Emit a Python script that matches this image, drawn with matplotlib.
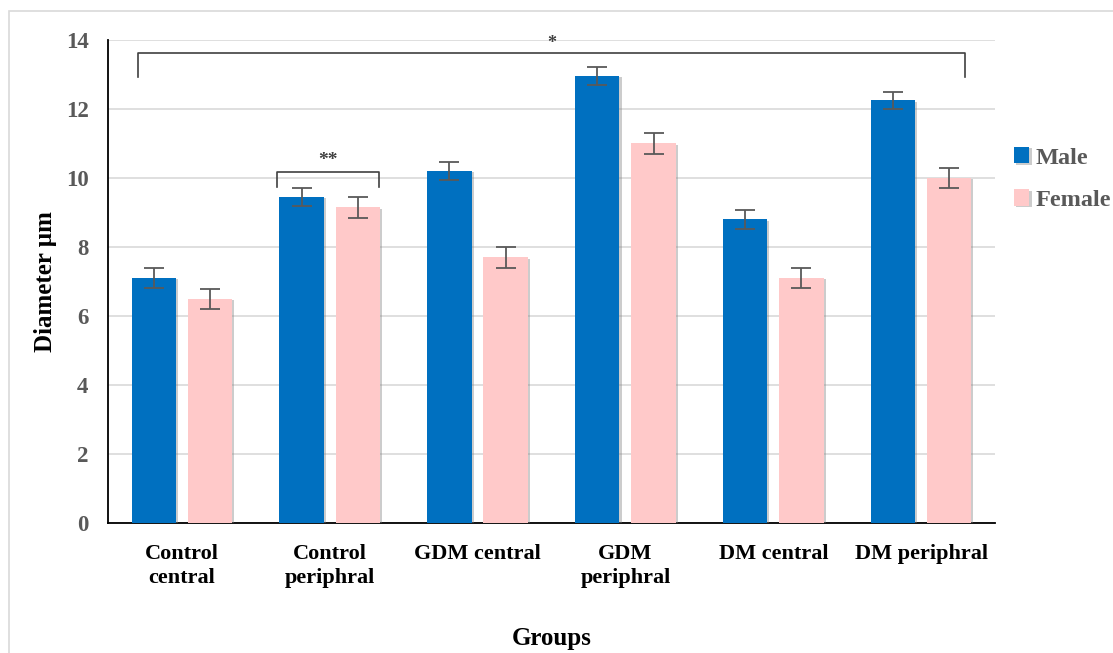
import numpy as np
import matplotlib.pyplot as plt
import matplotlib.patheffects as pe
from matplotlib.patches import Rectangle

# mean fibre diameter by group (µm)
groups = ["Control\ncentral", "Control\nperiphral", "GDM central",
          "GDM\nperiphral", "DM central", "DM periphral"]
male = [7.1, 9.45, 10.2, 12.95, 8.8, 12.25]
female = [6.5, 9.15, 7.7, 11.0, 7.1, 10.0]
male_err = [0.28, 0.25, 0.27, 0.27, 0.27, 0.25]
female_err = [0.29, 0.3, 0.3, 0.3, 0.3, 0.3]

plt.rcParams['font.family'] = ['Liberation Serif', 'DejaVu Serif']
plt.rcParams['font.weight'] = 'bold'

fig = plt.figure(figsize=(11.13, 6.53), dpi=100)
ax = fig.add_axes([0.097, 0.199, 0.797, 0.74])

x = np.arange(len(groups))
shadow = [pe.SimplePatchShadow(offset=(1.5, -1), shadow_rgbFace='gray', alpha=0.4), pe.Normal()]
err_kw = dict(ecolor='#595959', elinewidth=1.3, capsize=7, capthick=1.3)

b1 = ax.bar(x - 0.19, male, 0.3, color='#0070C0', yerr=male_err,
            error_kw=err_kw, label='Male', zorder=3)
b2 = ax.bar(x + 0.19, female, 0.3, color='#FFC9C9', yerr=female_err,
            error_kw=err_kw, label='Female', zorder=3)
for bar in list(b1) + list(b2):
    bar.set_path_effects(shadow)

ax.set_xlim(-0.5, len(groups) - 0.5)
ax.set_ylim(0, 14)
ax.set_yticks(range(0, 15, 2))
ax.yaxis.grid(True, color='#D9D9D9', linewidth=1.2, zorder=0)
ax.set_axisbelow(True)
for s in ['top', 'right']:
    ax.spines[s].set_visible(False)
ax.spines['left'].set_linewidth(1.3)
ax.spines['bottom'].set_linewidth(1.3)
ax.tick_params(axis='both', length=0)
ax.tick_params(axis='y', labelsize=16.5, labelcolor='#595959', pad=14)
ax.set_xticks(x)
ax.set_xticklabels(groups, fontsize=16, fontweight='bold', linespacing=1.3)
ax.tick_params(axis='x', pad=15)
ax.set_ylabel('Diameter µm', fontsize=18, fontweight='bold', labelpad=6)
ax.set_xlabel('Groups', fontsize=18, fontweight='bold', labelpad=28)

# significance brackets
ax.plot([-0.3, -0.3, 5.3, 5.3], [12.93, 13.62, 13.62, 12.93], color='#404040', lw=1.2, clip_on=False)
ax.text(2.5, 13.65, '*', ha='center', va='bottom', fontsize=13, color='#404040')
ax.plot([0.64, 0.64, 1.33, 1.33], [9.74, 10.17, 10.17, 9.74], color='#404040', lw=1.2)
ax.text(0.985, 10.25, '**', ha='center', va='bottom', fontsize=14, color='#404040')

leg = ax.legend(loc='center left', bbox_to_anchor=(1.021, 0.712), frameon=False,
                prop={'size': 17.5, 'weight': 'bold'}, handlelength=0.65, handleheight=0.65,
                handletextpad=0.25, labelspacing=0.85, borderpad=0, borderaxespad=0)
for t in leg.get_texts():
    t.set_color('#595959')

# outer chart frame
fig.patches.append(Rectangle((0.008, -0.1), 1.1, 1.083, transform=fig.transFigure,
                             fill=False, edgecolor='#D9D9D9', linewidth=1.2))

fig.savefig('out.png', dpi=100)
